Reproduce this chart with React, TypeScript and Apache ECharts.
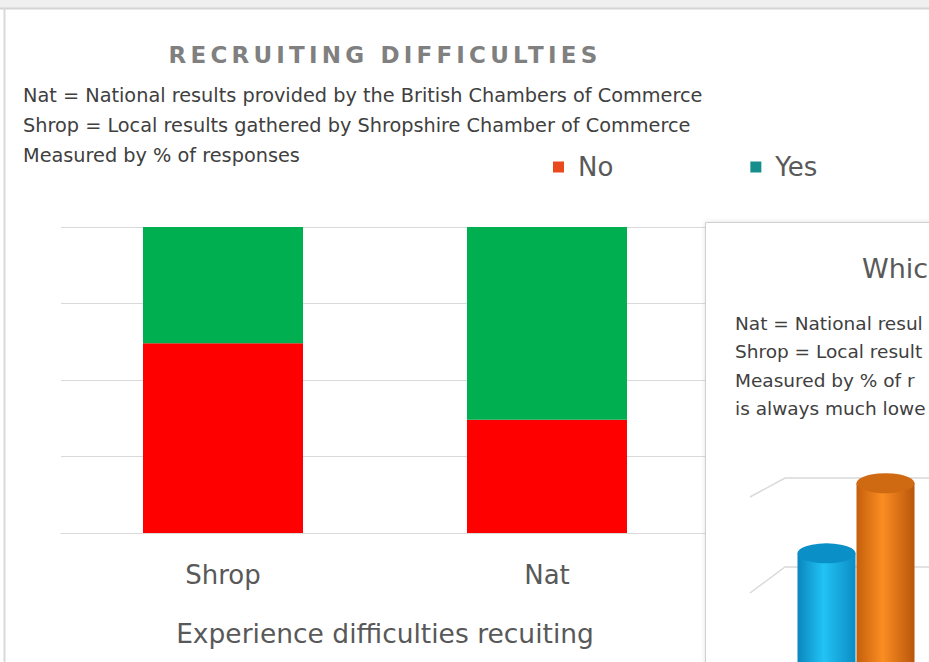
import React, { useEffect, useRef } from "react";
import * as echarts from "echarts";

// ---- data ----
const categories = ["Shrop", "Nat"];
const noValues = [62, 37];
const yesValues = [38, 63];
const legendNames = ["No", "Yes"];
const valueTicks = [0, 25, 50, 75, 100];

const titleText = "RECRUITING DIFFICULTIES";
const noteLines = [
  "Nat = National results provided by the British Chambers of Commerce",
  "Shrop = Local results gathered by Shropshire Chamber of Commerce",
  "Measured by % of responses",
];
const axisNameText = "Experience difficulties recuiting";

// second (overlapping) chart, only partly visible
const panelTitle = "Whic";
const panelLines = [
  "Nat = National resul",
  "Shrop = Local result",
  "Measured by % of r",
  "is always much lowe",
];
const panelCategories = ["Shrop", "Nat"];
const panelValues = [31.4, 39.4];

const FONT = "'DejaVu Sans', sans-serif";

export default function App() {
  const ref = useRef<HTMLDivElement>(null);
  useEffect(() => {
    const chart = echarts.init(ref.current!, null, { renderer: "svg" });
    const blueGrad = new echarts.graphic.LinearGradient(0, 0, 1, 0, [
      { offset: 0, color: "#0a86bd" },
      { offset: 0.45, color: "#22c3f5" },
      { offset: 1, color: "#0b8cc4" },
    ]);
    const orangeGrad = new echarts.graphic.LinearGradient(0, 0, 1, 0, [
      { offset: 0, color: "#c45f0c" },
      { offset: 0.45, color: "#fb8d22" },
      { offset: 1, color: "#b8560a" },
    ]);
    const option: any = {
      animation: false,
      backgroundColor: "#ffffff",
      title: [
        {
          text: titleText,
          left: 380,
          top: 38,
          textAlign: "center",
          textStyle: {
            fontFamily: FONT,
            fontSize: 23,
            fontWeight: "bold",
            color: "#808080",
          },
        },
        {
          text: noteLines.join("\n"),
          left: 18,
          top: 76,
          textStyle: {
            fontFamily: FONT,
            fontSize: 19.3,
            fontWeight: "normal",
            color: "#404040",
            lineHeight: 29.8,
          },
        },
      ],
      legend: {
        left: 548,
        top: 149,
        itemWidth: 11,
        itemHeight: 11,
        itemGap: 137,
        icon: "rect",
        selectedMode: false,
        textStyle: { fontFamily: FONT, fontSize: 26, color: "#595959", padding: [0, 0, 0, 9] },
        data: [
          { name: legendNames[0], itemStyle: { color: "#e8491d" } },
          { name: legendNames[1], itemStyle: { color: "#178e8e" } },
        ],
      },
      grid: [
        { left: 61, width: 648, top: 227, bottom: 129, containLabel: false },
        { left: 797, width: 118, top: 478, bottom: 0, containLabel: false },
      ],
      xAxis: [
        {
          type: "category",
          gridIndex: 0,
          data: categories,
          axisTick: { show: false },
          axisLine: { lineStyle: { color: "#d9d9d9" } },
          axisLabel: { fontFamily: FONT, fontSize: 26, color: "#595959", margin: 29 },
          name: axisNameText,
          nameLocation: "middle",
          nameGap: 87,
          nameTextStyle: { fontFamily: FONT, fontSize: 26.5, color: "#595959" },
        },
        {
          type: "category",
          gridIndex: 1,
          data: panelCategories,
          show: false,
        },
      ],
      yAxis: [
        {
          type: "value",
          gridIndex: 0,
          min: valueTicks[0],
          max: valueTicks[valueTicks.length - 1],
          interval: valueTicks[1] - valueTicks[0],
          axisLabel: { show: false },
          axisLine: { show: false },
          axisTick: { show: false },
          splitLine: { lineStyle: { color: "#d9d9d9" } },
        },
        {
          type: "value",
          gridIndex: 1,
          min: 19,
          max: 40,
          show: false,
          splitLine: { show: false },
        },
      ],
      series: [
        {
          name: legendNames[0],
          type: "bar",
          stack: "total",
          data: noValues,
          barWidth: 160,
          itemStyle: { color: "#ff0000" },
        },
        {
          name: legendNames[1],
          type: "bar",
          stack: "total",
          data: yesValues,
          barWidth: 160,
          itemStyle: { color: "#00b050" },
        },
        {
          name: "panel",
          type: "bar",
          xAxisIndex: 1,
          yAxisIndex: 1,
          barCategoryGap: 0,
          barWidth: 58,
          z: 5,
          data: panelValues.map((v, i) => ({
            value: v,
            itemStyle: { color: i === 0 ? blueGrad : orangeGrad },
          })),
        },
        {
          name: "panelTop",
          type: "pictorialBar",
          xAxisIndex: 1,
          yAxisIndex: 1,
          symbol: "circle",
          symbolSize: [58, 20],
          symbolPosition: "end",
          symbolOffset: [0, "-50%"],
          z: 6,
          data: panelValues.map((v, i) => ({
            value: v,
            itemStyle: { color: i === 0 ? "#0a8fc6" : "#d06a12" },
          })),
        },
      ],
      graphic: [
        { type: "rect", shape: { x: 0, y: 0, width: 929, height: 8 }, style: { fill: "#efefef" }, z: 10 },
        { type: "line", shape: { x1: 0, y1: 8.5, x2: 929, y2: 8.5 }, style: { stroke: "#d4d4d4", lineWidth: 2 }, z: 10 },
        { type: "line", shape: { x1: 4.5, y1: 8, x2: 4.5, y2: 662 }, style: { stroke: "#d9d9d9", lineWidth: 2 }, z: 10 },
        {
          type: "rect",
          shape: { x: 705.5, y: 222.5, width: 240, height: 460 },
          style: { fill: "#ffffff", stroke: "#d0d0d0", lineWidth: 1, shadowBlur: 4, shadowColor: "rgba(0,0,0,0.12)" },
          z: 3,
        },
        {
          type: "text",
          x: 862,
          y: 268,
          style: { text: panelTitle, fill: "#595959", font: `27px ${FONT}`, verticalAlign: "middle" },
          z: 4,
        },
        ...panelLines.map((t, i) => ({
          type: "text",
          x: 735,
          y: 323 + i * 28.5,
          style: { text: t, fill: "#404040", font: `18.5px ${FONT}`, verticalAlign: "middle" },
          z: 4,
        })),
        { type: "polyline", shape: { points: [[750, 497], [785, 478], [940, 478]] }, style: { stroke: "#d9d9d9", lineWidth: 1.5, fill: null }, z: 4 },
        { type: "polyline", shape: { points: [[750, 593], [785, 567], [940, 567]] }, style: { stroke: "#d9d9d9", lineWidth: 1.5, fill: null }, z: 4 },
      ],
    };
    chart.setOption(option);
    const spaceTitle = () => {
      const texts = ref.current ? ref.current.querySelectorAll("text") : [];
      texts.forEach((el: Element) => {
        if (el.textContent === titleText) el.setAttribute("letter-spacing", "4.2px");
      });
    };
    chart.getZr().flush();
    spaceTitle();
    chart.on("finished", spaceTitle);
    return () => chart.dispose();
  }, []);
  return (
    <div
      ref={ref}
      style={{ position: "absolute", left: 0, top: 0, width: 929, height: 662 }}
    />
  );
}
